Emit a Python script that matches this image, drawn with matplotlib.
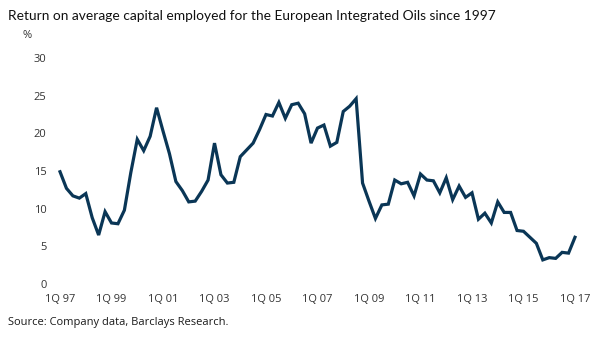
import matplotlib
matplotlib.use("Agg")
import matplotlib.pyplot as plt

# quarterly ROACE (%), 1Q 97 .. 1Q 17
roace = [
    14.9, 12.7, 11.7, 11.4, 12.0, 8.8, 6.5, 9.6, 8.1, 8.0,
    9.8, 14.8, 19.2, 17.7, 19.6, 23.4, 20.3, 17.3, 13.6, 12.4,
    10.9, 11.0, 12.3, 13.8, 18.7, 14.5, 13.4, 13.5, 16.9, 17.8,
    18.7, 20.5, 22.5, 22.3, 24.1, 22.0, 23.8, 24.0, 22.6, 18.7,
    20.7, 21.1, 18.3, 18.8, 22.9, 23.6, 24.6, 13.4, 11.0, 8.7,
    10.5, 10.6, 13.8, 13.3, 13.5, 11.7, 14.6, 13.8, 13.7, 12.1,
    14.1, 11.2, 13.0, 11.5, 12.1, 8.6, 9.4, 8.1, 10.9, 9.5,
    9.5, 7.1, 7.0, 6.2, 5.4, 3.2, 3.5, 3.4, 4.2, 4.1,
    6.2,
]
tick_labels = ["1Q 97", "1Q 99", "1Q 01", "1Q 03", "1Q 05", "1Q 07",
               "1Q 09", "1Q 11", "1Q 13", "1Q 15", "1Q 17"]
y_ticks = [0, 5, 10, 15, 20, 25, 30]

plt.rcParams['font.family'] = ['Open Sans', 'DejaVu Sans']
txt = '#333333'

fig = plt.figure(figsize=(6, 3.39), dpi=100)
W, H = 600, 339
ax = fig.add_axes([55 / W, 1 - 284 / H, 525 / W, 226 / H])

x = list(range(len(roace)))
ax.plot(x, roace, color='#0a3656', lw=2.3, solid_joinstyle='miter')

ax.set_xlim(-0.78, 80.78)
ax.set_ylim(0, 30)
ax.set_xticks(list(range(0, 81, 8)))
ax.set_xticklabels(tick_labels)
ax.set_yticks(y_ticks)
ax.tick_params(length=0, labelsize=8, colors=txt)
ax.tick_params(axis='x', pad=7)
ax.tick_params(axis='y', pad=6)
for s in ax.spines.values():
    s.set_visible(False)

fig.text(8 / W, 1 - 16 / H, "Return on average capital employed for the European Integrated Oils since 1997",
         fontsize=9.9, color='#111111', va='center', ha='left',
         family=['Lato', 'DejaVu Sans'])
fig.text(27 / W, 1 - 36 / H, "%", fontsize=8, color=txt, va='center', ha='center')
fig.text(8 / W, 1 - 322 / H, "Source: Company data, Barclays Research.",
         fontsize=8, color='#1a1a1a', va='center', ha='left')

fig.savefig("out.png", dpi=100)
